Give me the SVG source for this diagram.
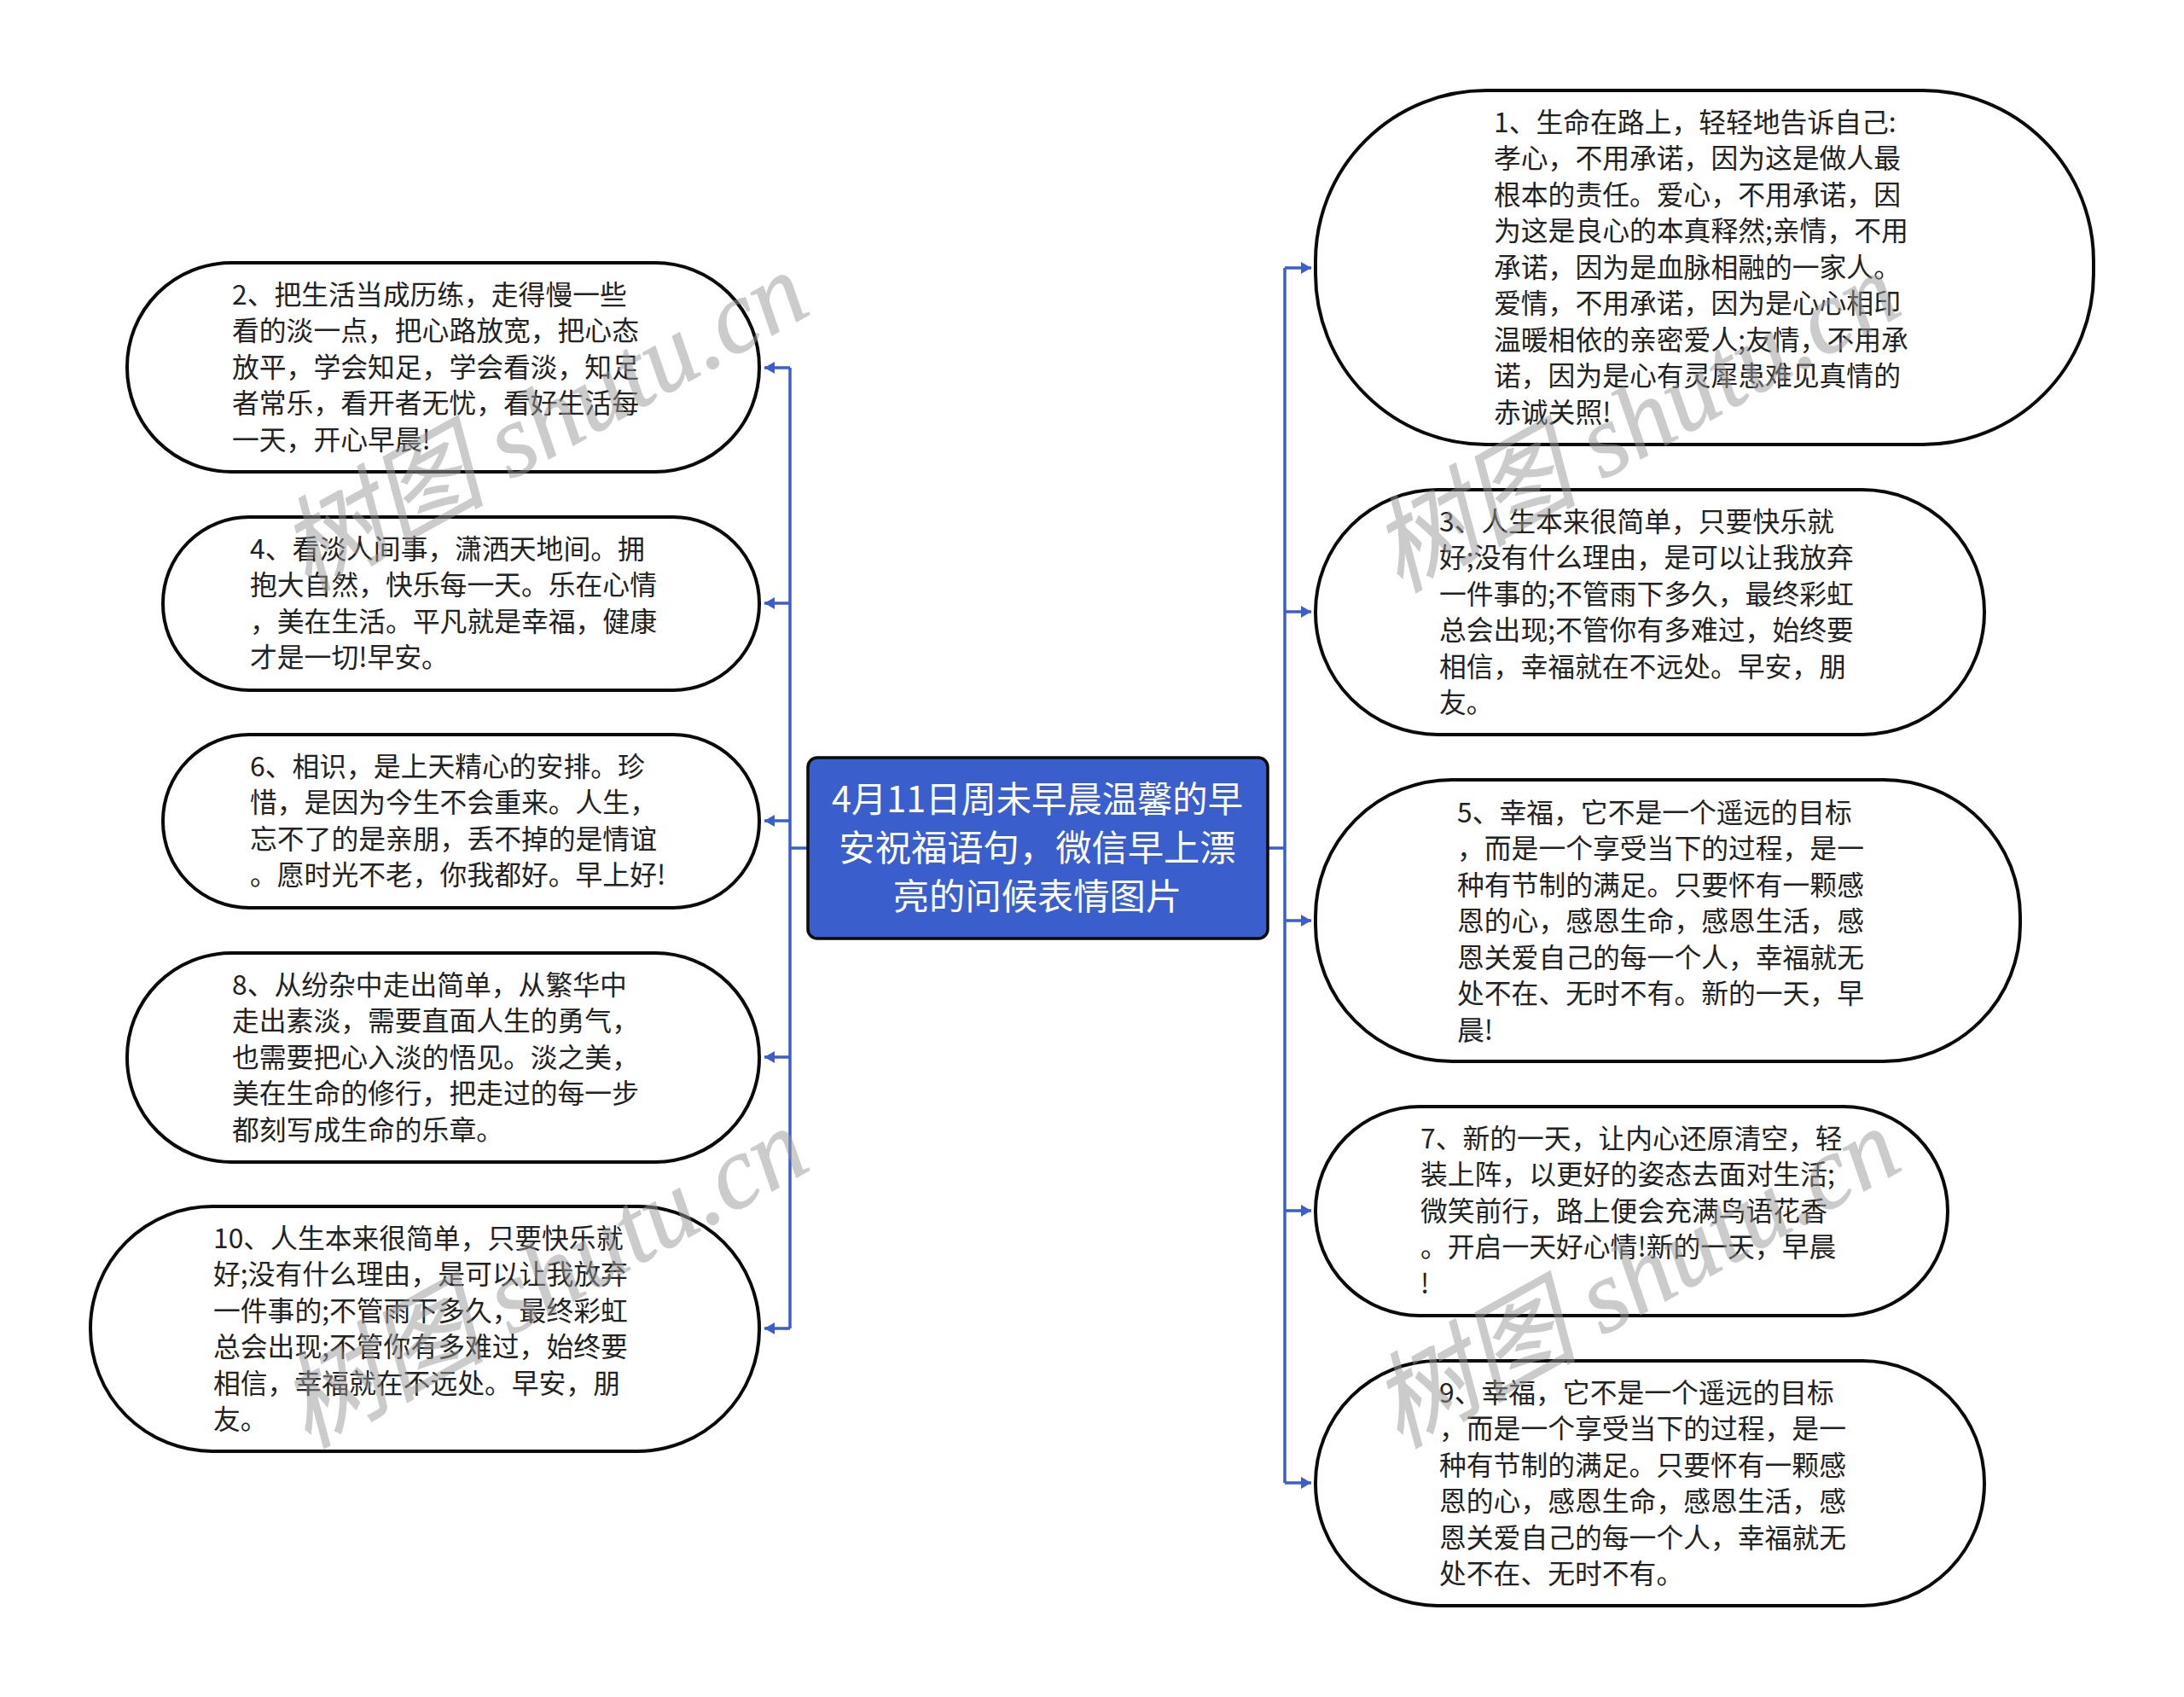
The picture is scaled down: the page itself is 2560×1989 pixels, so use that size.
<svg xmlns="http://www.w3.org/2000/svg" width="2560" height="1989" viewBox="0 0 2560 1989">
<style>
.n{fill:#fff;stroke:#0a0a0a;stroke-width:4}
.t{font-family:"Noto Sans CJK SC","Liberation Sans",sans-serif;font-size:31.8px;fill:#222;transform:translateY(1px)}
.r{font-family:"Noto Sans CJK SC","Liberation Sans",sans-serif;font-size:42.3px;fill:#fff;text-anchor:middle;transform:translateY(1px)}
.c{fill:none;stroke:#3a5fcd;stroke-width:3.5}
.w{font-family:"Liberation Serif","Noto Sans CJK SC",serif;font-style:italic;font-size:121px;fill:#999;stroke:#999;stroke-width:1;opacity:.5}
</style>
<defs><marker id="a" markerUnits="userSpaceOnUse" markerWidth="14" markerHeight="16" refX="13" refY="8" orient="auto"><path d="M1 1L13 8L1 15z" fill="#3a5fcd"/></marker></defs>
<g id="connectors">
<path class="c" d="M946 994H926"/><path class="c" d="M926 431V1557"/>
<path class="c" marker-end="url(#a)" d="M926 431H896"/>
<path class="c" marker-end="url(#a)" d="M926 707H896"/>
<path class="c" marker-end="url(#a)" d="M926 962H896"/>
<path class="c" marker-end="url(#a)" d="M926 1239H896"/>
<path class="c" marker-end="url(#a)" d="M926 1557H896"/>
<path class="c" d="M1486 994H1506"/><path class="c" d="M1506 314V1738"/>
<path class="c" marker-end="url(#a)" d="M1506 314H1537"/>
<path class="c" marker-end="url(#a)" d="M1506 717H1537"/>
<path class="c" marker-end="url(#a)" d="M1506 1079H1537"/>
<path class="c" marker-end="url(#a)" d="M1506 1419H1537"/>
<path class="c" marker-end="url(#a)" d="M1506 1738H1537"/>
</g>
<g id="root"><rect x="947" y="888" width="539" height="212" rx="11" fill="#3a5fcd" stroke="#0a0a0a" stroke-width="3.5"/>
<text class="r" x="1216" y="951" textLength="482" lengthAdjust="spacingAndGlyphs">4月11日周未早晨温馨的早</text><text class="r" x="1216" y="1008">安祝福语句，微信早上漂</text><text class="r" x="1216" y="1065">亮的问候表情图片</text></g>
<g id="n1"><rect class="n" x="1542" y="106" width="912" height="415" rx="200" ry="200"/>
<text class="t" x="1751" y="154">1、生命在路上，轻轻地告诉自己:</text><text class="t" x="1751" y="196">孝心，不用承诺，因为这是做人最</text><text class="t" x="1751" y="239">根本的责任。爱心，不用承诺，因</text><text class="t" x="1751" y="281">为这是良心的本真释然;亲情，不用</text><text class="t" x="1751" y="324">承诺，因为是血脉相融的一家人。</text><text class="t" x="1751" y="366">爱情，不用承诺，因为是心心相印</text><text class="t" x="1751" y="409">温暖相依的亲密爱人;友情，不用承</text><text class="t" x="1751" y="451">诺，因为是心有灵犀患难见真情的</text><text class="t" x="1751" y="494">赤诚关照!</text></g>
<g id="n3"><rect class="n" x="1542" y="574" width="784" height="287" rx="143"/>
<text class="t" x="1687" y="622">3、人生本来很简单，只要快乐就</text><text class="t" x="1687" y="664">好;没有什么理由，是可以让我放弃</text><text class="t" x="1687" y="707">一件事的;不管雨下多久，最终彩虹</text><text class="t" x="1687" y="749">总会出现;不管你有多难过，始终要</text><text class="t" x="1687" y="792">相信，幸福就在不远处。早安，朋</text><text class="t" x="1687" y="834">友。</text></g>
<g id="n5"><rect class="n" x="1542" y="914" width="826" height="330" rx="160"/>
<text class="t" x="1708" y="963">5、幸福，它不是一个遥远的目标</text><text class="t" x="1708" y="1005">，而是一个享受当下的过程，是一</text><text class="t" x="1708" y="1048">种有节制的满足。只要怀有一颗感</text><text class="t" x="1708" y="1090">恩的心，感恩生命，感恩生活，感</text><text class="t" x="1708" y="1133">恩关爱自己的每一个人，幸福就无</text><text class="t" x="1708" y="1175">处不在、无时不有。新的一天，早</text><text class="t" x="1708" y="1218">晨!</text></g>
<g id="n7"><rect class="n" x="1542" y="1297" width="741" height="245" rx="122"/>
<text class="t" x="1665" y="1345">7、新的一天，让内心还原清空，轻</text><text class="t" x="1665" y="1387">装上阵，以更好的姿态去面对生活;</text><text class="t" x="1665" y="1430">微笑前行，路上便会充满鸟语花香</text><text class="t" x="1665" y="1472">。开启一天好心情!新的一天，早晨</text><text class="t" x="1665" y="1515">!</text></g>
<g id="n9"><rect class="n" x="1542" y="1595" width="784" height="287" rx="143"/>
<text class="t" x="1687" y="1643">9、幸福，它不是一个遥远的目标</text><text class="t" x="1687" y="1685">，而是一个享受当下的过程，是一</text><text class="t" x="1687" y="1728">种有节制的满足。只要怀有一颗感</text><text class="t" x="1687" y="1770">恩的心，感恩生命，感恩生活，感</text><text class="t" x="1687" y="1813">恩关爱自己的每一个人，幸福就无</text><text class="t" x="1687" y="1855">处不在、无时不有。</text></g>
<g id="n2"><rect class="n" x="149" y="308" width="741" height="245" rx="122"/>
<text class="t" x="272" y="356">2、把生活当成历练，走得慢一些</text><text class="t" x="272" y="398">看的淡一点，把心路放宽，把心态</text><text class="t" x="272" y="441">放平，学会知足，学会看淡，知足</text><text class="t" x="272" y="483">者常乐，看开者无忧，看好生活每</text><text class="t" x="272" y="526">一天，开心早晨!</text></g>
<g id="n4"><rect class="n" x="191" y="606" width="699" height="203" rx="101"/>
<text class="t" x="293" y="654">4、看淡人间事，潇洒天地间。拥</text><text class="t" x="293" y="696">抱大自然，快乐每一天。乐在心情</text><text class="t" x="293" y="739">，美在生活。平凡就是幸福，健康</text><text class="t" x="293" y="781">才是一切!早安。</text></g>
<g id="n6"><rect class="n" x="191" y="861" width="699" height="203" rx="101"/>
<text class="t" x="293" y="909">6、相识，是上天精心的安排。珍</text><text class="t" x="293" y="951">惜，是因为今生不会重来。人生，</text><text class="t" x="293" y="994">忘不了的是亲朋，丢不掉的是情谊</text><text class="t" x="293" y="1036">。愿时光不老，你我都好。早上好!</text></g>
<g id="n8"><rect class="n" x="149" y="1117" width="741" height="245" rx="122"/>
<text class="t" x="272" y="1165">8、从纷杂中走出简单，从繁华中</text><text class="t" x="272" y="1207">走出素淡，需要直面人生的勇气，</text><text class="t" x="272" y="1250">也需要把心入淡的悟见。淡之美，</text><text class="t" x="272" y="1292">美在生命的修行，把走过的每一步</text><text class="t" x="272" y="1335">都刻写成生命的乐章。</text></g>
<g id="n10"><rect class="n" x="106" y="1414" width="784" height="287" rx="143"/>
<text class="t" x="250" y="1462">10、人生本来很简单，只要快乐就</text><text class="t" x="250" y="1504">好;没有什么理由，是可以让我放弃</text><text class="t" x="250" y="1547">一件事的;不管雨下多久，最终彩虹</text><text class="t" x="250" y="1589">总会出现;不管你有多难过，始终要</text><text class="t" x="250" y="1632">相信，幸福就在不远处。早安，朋</text><text class="t" x="250" y="1674">友。</text></g>
<g id="watermarks">
<text class="w" transform="translate(360 695) rotate(-29)">树图 shutu.cn</text>
<text class="w" transform="translate(360 1698) rotate(-29)">树图 shutu.cn</text>
<text class="w" transform="translate(1640 695) rotate(-29)">树图 shutu.cn</text>
<text class="w" transform="translate(1640 1698) rotate(-29)">树图 shutu.cn</text>
</g>
</svg>
